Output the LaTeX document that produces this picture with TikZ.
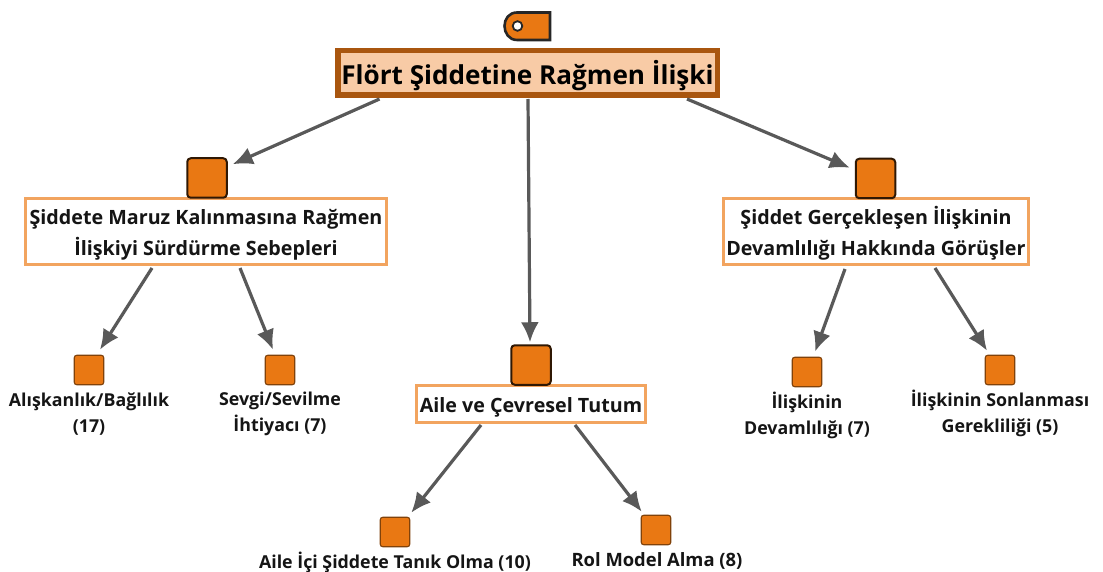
\documentclass[tikz,border=0pt]{standalone}
\usepackage{fontspec}
\setmainfont{Open Sans}
\usetikzlibrary{calc,arrows.meta}
\definecolor{orangeF}{HTML}{E97813}
\definecolor{rootEdge}{HTML}{A9560F}
\definecolor{rootFill}{HTML}{F8CBA6}
\definecolor{boxEdge}{HTML}{F2A45F}
\definecolor{arrowC}{HTML}{595959}
\definecolor{txt}{HTML}{151515}
\tikzset{
  bigsq/.style={draw=black!80!orangeF,line width=2pt,fill=orangeF,rounded corners=3.5pt,minimum width=39.5pt,minimum height=39.5pt,inner sep=0pt},
  smallsq/.style={draw=black!45!orangeF,line width=1.1pt,fill=orangeF,rounded corners=2.5pt,minimum width=29.5pt,minimum height=29.5pt,inner sep=0pt},
  rootbox/.style={draw=rootEdge,line width=5.5pt,fill=rootFill,minimum width=379.5pt,minimum height=44.5pt,inner sep=0pt,font=\fontsize{26.1}{30}\selectfont\bfseries,text=black},
  catbox/.style={draw=boxEdge,line width=3pt,fill=white,inner sep=0pt,align=center,font=\fontsize{19.7}{31}\selectfont\bfseries,text=txt},
  leaf/.style={inner sep=0pt,align=center,font=\fontsize{17.8}{26}\selectfont\bfseries,text=txt},
  conn/.style={draw=arrowC,line width=3.2pt,-{Latex[length=20pt,width=18pt]}}
}
\begin{document}
\begin{tikzpicture}[x=1pt,y=-1pt]
\useasboundingbox (0,0) rectangle (1103,572);
% tag
\draw[draw=black!85,line width=2.6pt,fill=orangeF] (550,12.5) -- (550,40) -- (517,40) .. controls (509,40) and (504.5,33) .. (504.5,26) .. controls (504.5,19) and (509,12.5) .. (517,12.5) -- cycle;
\draw[draw=black!85,line width=1.8pt,fill=white] (517.5,26) circle (4.8);
% main nodes
\node[rootbox] (root) at (527.5,73) {\rule{0pt}{30pt}Flört Şiddetine Rağmen İlişki};
\node[catbox,minimum width=361pt,minimum height=66pt] (left) at (206,231.5) {\rule{0pt}{22pt}Şiddete Maruz Kalınmasına Rağmen\\İlişkiyi Sürdürme Sebepleri};
\node[catbox,minimum width=305pt,minimum height=66pt] (right) at (876,231.5) {\rule{0pt}{22pt}Şiddet Gerçekleşen İlişkinin\\Devamlılığı Hakkında Görüşler};
\node[catbox,minimum width=229pt,minimum height=37pt] (mid) at (531,404) {\rule{0pt}{22pt}Aile ve Çevresel Tutum};
\node[bigsq] (sqL) at (207,178) {};
\node[bigsq] (sqR) at (875.5,178.5) {};
\node[bigsq] (sqM) at (531,365) {};
\node[smallsq] (a) at (89,370) {};
\node[smallsq] (b) at (280,370) {};
\node[smallsq] (c) at (395,532) {};
\node[smallsq] (d) at (656,530) {};
\node[smallsq] (e) at (807,372) {};
\node[smallsq] (f) at (1000,370) {};
% labels
\node[leaf] (la) at (89,414) {Alışkanlık/Bağlılık\\(17)};
\node[leaf] (lb) at (280,414) {Sevgi/Sevilme\\İhtiyacı (7)};
\node[leaf] (lc) at (395,562) {Aile İçi Şiddete Tanık Olma (10)};
\node[leaf,font=\fontsize{18.4}{26}\selectfont\bfseries] (ld) at (657,561) {Rol Model Alma (8)};
\node[leaf] (le) at (807,415) {İlişkinin\\Devamlılığı (7)};
\node[leaf] (lf) at (1000,413.5) {İlişkinin Sonlanması\\Gerekliliği (5)};
% connectors
\draw[conn] ($(root.south)+(-148,1)$) -- ($(sqL.north east)+(5,7)$);
\draw[conn] ($(root.south)+(0.5,1)$) -- ($(sqM.north)+(-1,-2)$);
\draw[conn] ($(root.south)+(159.5,1)$) -- ($(sqR.north west)+(-5,10)$);
\draw[conn] ($(left.south)+(-54,2)$) -- ($(a.north)+(11,-5)$);
\draw[conn] ($(left.south)+(34,2)$) -- ($(b.north)+(-7,-5)$);
\draw[conn] ($(mid.south)+(-50,1)$) -- ($(c.north east)+(1,-4)$);
\draw[conn] ($(mid.south)+(44,1)$) -- ($(d.north west)+(1,-3)$);
\draw[conn] ($(right.south)+(-31,3)$) -- ($(e.north)+(8,-5)$);
\draw[conn] ($(right.south)+(59,2)$) -- ($(f.north)+(-13,-4)$);
\end{tikzpicture}
\end{document}
